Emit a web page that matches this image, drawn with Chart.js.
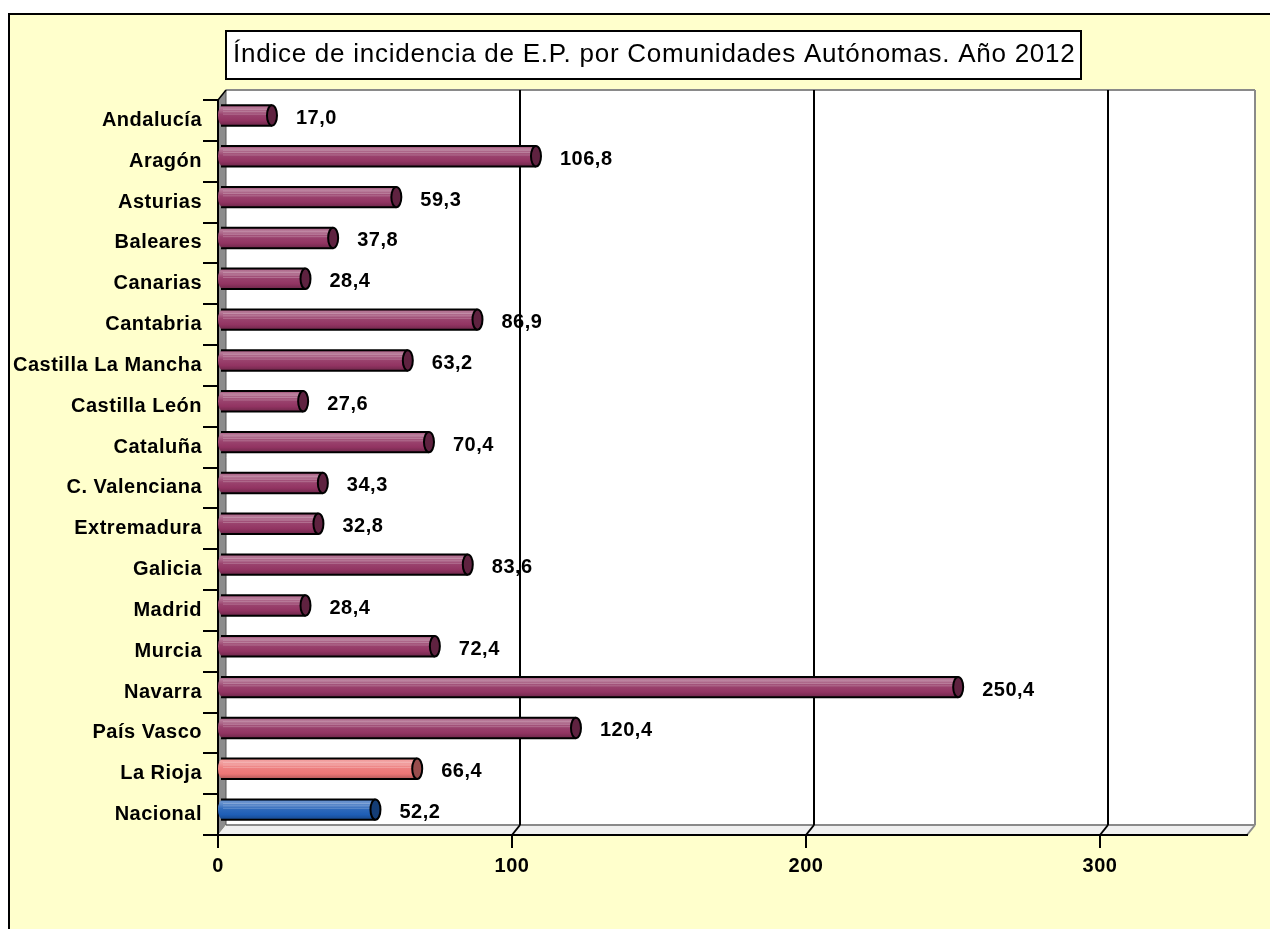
<!DOCTYPE html>
<html><head><meta charset="utf-8">
<script src="https://cdn.jsdelivr.net/npm/chart.js@4/dist/chart.umd.min.js"></script>
<style>html,body{margin:0;padding:0;background:#fff;overflow:hidden}canvas{display:block}</style>
</head><body>
<canvas id="c" width="1270" height="929"></canvas>
<script>
const categories = ['Andalucía','Aragón','Asturias','Baleares','Canarias','Cantabria','Castilla La Mancha','Castilla León','Cataluña','C. Valenciana','Extremadura','Galicia','Madrid','Murcia','Navarra','País Vasco','La Rioja','Nacional'];
const values = [17.0,106.8,59.3,37.8,28.4,86.9,63.2,27.6,70.4,34.3,32.8,83.6,28.4,72.4,250.4,120.4,66.4,52.2];
const xTicks = [0,100,200,300];
const titleText = 'Índice de incidencia de E.P. por Comunidades Autónomas. Año 2012';

const PURPLE = '#923462', SALMON = '#EC7676', BLUE = '#1E5EB6';
const barColors = categories.map((c,i)=> i===categories.length-1 ? BLUE : (i===categories.length-2 ? SALMON : PURPLE));

const W=1270, H=929, DX=8, DY=-10;
const FONT = '"Liberation Sans", Arial, sans-serif';
const LS = '0.5px';

function shade(hex,f){
  const n=parseInt(hex.slice(1),16);
  let r=n>>16,g=(n>>8)&255,b=n&255;
  if(f>=0){r+=(255-r)*f;g+=(255-g)*f;b+=(255-b)*f;}
  else{r*=1+f;g*=1+f;b*=1+f;}
  return 'rgb('+Math.round(r)+','+Math.round(g)+','+Math.round(b)+')';
}
function line(ctx,x1,y1,x2,y2){ctx.beginPath();ctx.moveTo(x1,y1);ctx.lineTo(x2,y2);ctx.stroke();}
function poly(ctx,pts){ctx.beginPath();ctx.moveTo(pts[0][0],pts[0][1]);for(let i=1;i<pts.length;i++)ctx.lineTo(pts[i][0],pts[i][1]);ctx.closePath();}

const threeD = {
  id:'threeD',
  beforeLayout(chart){ chart.ctx.letterSpacing = LS; },
  beforeDraw(chart){
    const ctx=chart.ctx;
    ctx.letterSpacing = LS;
    ctx.save();
    ctx.fillStyle='#fff'; ctx.fillRect(0,0,W,H);
    ctx.fillStyle='#FFFFCC'; ctx.fillRect(9,14,W,H);
    ctx.strokeStyle='#000'; ctx.lineWidth=2; ctx.strokeRect(9,14,W+20,H+20);
    // title box
    ctx.fillStyle='#fff'; ctx.fillRect(226,31,855,48);
    ctx.strokeStyle='#000'; ctx.lineWidth=2; ctx.strokeRect(226,31,855,48);
    ctx.fillStyle='#000'; ctx.font='26px '+FONT; ctx.letterSpacing='0.75px';
    ctx.textAlign='left'; ctx.textBaseline='middle';
    ctx.fillText(titleText,233,55);
    ctx.letterSpacing=LS;
    const {left,right,top,bottom}=chart.chartArea;
    const xs=chart.scales.x;
    // back wall
    ctx.fillStyle='#fff'; ctx.fillRect(left+DX,top+DY,right-left,bottom-top);
    // left wall
    poly(ctx,[[left,top],[left+DX,top+DY],[left+DX,bottom+DY],[left,bottom]]);
    ctx.fillStyle='#8c8c8c'; ctx.fill();
    // floor
    poly(ctx,[[left,bottom],[left+DX,bottom+DY],[right+DX,bottom+DY],[right,bottom]]);
    ctx.fillStyle='#f0f0f0'; ctx.fill();
    // outlines
    ctx.strokeStyle='#8a8a8a'; ctx.lineWidth=2;
    line(ctx,left+DX,top+DY,right+DX,top+DY);
    line(ctx,right+DX,top+DY,right+DX,bottom+DY);
    line(ctx,right+DX,bottom+DY,right,bottom);
    line(ctx,left+DX,bottom+DY,right+DX,bottom+DY);
    ctx.strokeStyle='#555'; ctx.lineWidth=1;
    line(ctx,left+DX,top+DY,left+DX,bottom+DY);
    ctx.strokeStyle='#000'; ctx.lineWidth=1.5;
    line(ctx,left,top,left+DX,top+DY);
    // gridlines on back wall
    ctx.strokeStyle='#000'; ctx.lineWidth=2;
    xTicks.forEach(v=>{
      if(v===0) return;
      const px=xs.getPixelForValue(v);
      line(ctx,px+DX,top+DY,px+DX,bottom+DY);
      line(ctx,px+DX,bottom+DY,px,bottom);
    });
    ctx.restore();
  },
  beforeDatasetsDraw(chart){ chart.ctx.save(); chart.ctx.translate(DX/2,DY/2); },
  afterDatasetsDraw(chart){
    const ctx=chart.ctx;
    const meta=chart.getDatasetMeta(0);
    meta.data.forEach((el,i)=>{
      const p=el.getProps(['x','y','base','height'],true);
      const t=p.y-p.height/2, b=p.y+p.height/2, c=barColors[i], rx=5, ry=p.height/2;
      const g=ctx.createLinearGradient(0,t,0,b);
      g.addColorStop(0,shade(c,0.05));
      g.addColorStop(0.12,shade(c,0.35));
      g.addColorStop(0.3,shade(c,0.22));
      g.addColorStop(0.45,shade(c,0.08));
      g.addColorStop(0.75,c);
      g.addColorStop(1,shade(c,-0.25));
      ctx.fillStyle=g;
      ctx.fillRect(p.base,t,p.x-p.base,p.height);
      ctx.beginPath(); ctx.ellipse(p.base,p.y,rx,ry,0,Math.PI/2,Math.PI*1.5); ctx.closePath(); ctx.fill();
      ctx.strokeStyle='rgba(255,255,255,0.22)'; ctx.lineWidth=1;
      [0.2,0.32,0.44].forEach(f=>line(ctx,p.base,t+p.height*f,p.x,t+p.height*f));
      ctx.strokeStyle='#000'; ctx.lineWidth=2;
      line(ctx,p.base-2,t,p.x,t);
      line(ctx,p.base-2,b,p.x,b);
      ctx.beginPath(); ctx.ellipse(p.x,p.y,rx,ry,0,0,Math.PI*2);
      ctx.fillStyle=shade(c,-0.35); ctx.fill(); ctx.stroke();
    });
    ctx.restore();
    // value labels
    ctx.save();
    ctx.letterSpacing=LS;
    ctx.fillStyle='#000'; ctx.font='bold 20px '+FONT;
    ctx.textAlign='left'; ctx.textBaseline='middle';
    meta.data.forEach((el,i)=>{
      const p=el.getProps(['x','y'],true);
      ctx.fillText(values[i].toFixed(1).replace('.',','),p.x+28,p.y-2);
    });
    ctx.restore();
  }
};

new Chart(document.getElementById('c').getContext('2d'),{
  type:'bar',
  data:{labels:categories,datasets:[{data:values,backgroundColor:barColors,borderWidth:0,barPercentage:0.5,categoryPercentage:1}]},
  options:{
    indexAxis:'y',responsive:false,animation:false,devicePixelRatio:1,
    layout:{padding:{top:100,right:23,left:0,bottom:0}},
    plugins:{legend:{display:false},title:{display:false},tooltip:{enabled:false}},
    scales:{
      x:{type:'linear',min:0,max:350,
        afterBuildTicks(s){s.ticks=xTicks.map(v=>({value:v}));},
        afterFit(s){s.height=94;},
        ticks:{color:'#000',font:{family:FONT,size:20,weight:'bold'},padding:6,maxRotation:0,autoSkip:false},
        grid:{drawOnChartArea:false,drawTicks:true,tickLength:13,color:'#000',lineWidth:2},
        border:{display:true,color:'#000',width:2}},
      y:{afterFit(s){s.width=218;},
        ticks:{color:'#000',font:{family:FONT,size:20,weight:'bold'},padding:1,autoSkip:false},
        grid:{offset:true,drawOnChartArea:false,drawTicks:true,tickLength:15,color:'#000',lineWidth:2},
        border:{display:true,color:'#000',width:2}}
    }
  },
  plugins:[threeD]
});
</script>
</body></html>
